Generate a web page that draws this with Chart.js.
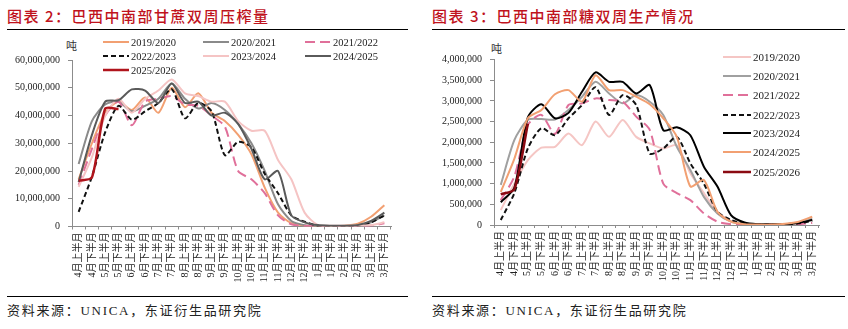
<!DOCTYPE html>
<html>
<head>
<meta charset="utf-8">
<script src="https://cdn.jsdelivr.net/npm/chart.js@4"></script>
<style>
  body { margin: 0; background: #fff; }
  #page { position: relative; width: 848px; height: 329px; overflow: hidden; }
  .title { position: absolute; top: 5px; font: 500 15px "Noto Sans CJK SC", sans-serif; color: #c0121c; letter-spacing: 1.5px; white-space: nowrap; }
  .rule { position: absolute; height: 0; border-top: 1.5px solid #000; }
  .src { position: absolute; top: 300px; font: 13px "Liberation Serif", "Noto Sans CJK SC", serif; color: #222; letter-spacing: 1.7px; white-space: nowrap; }
  .unit { position: absolute; font: 11px "Noto Sans CJK SC", sans-serif; color: #333; }
  canvas { position: absolute; }
</style>
</head>
<body>
<div id="page">
  <div class="title" style="left:7px">图表 2：巴西中南部甘蔗双周压榨量</div>
  <div class="title" style="left:432px">图表 3：巴西中南部糖双周生产情况</div>
  <div class="rule" style="left:7px; width:401px; top:29px"></div>
  <div class="rule" style="left:432px; width:413px; top:29px"></div>
  <span class="unit" style="left:66px; top:37px">吨</span>
  <span class="unit" style="left:491px; top:40px">吨</span>
  <canvas id="cane" width="410" height="264" style="left:0; top:32px"></canvas>
  <canvas id="sugar" width="424" height="264" style="left:424px; top:32px"></canvas>
  <div class="rule" style="left:7px; width:401px; top:296px"></div>
  <div class="rule" style="left:432px; width:413px; top:296px"></div>
  <div class="src" style="left:7px">资料来源：UNICA，东证衍生品研究院</div>
  <div class="src" style="left:432px">资料来源：UNICA，东证衍生品研究院</div>
</div>
<script>
// half-month periods of the harvest season
const periods = ["4月上半月","4月下半月","5月上半月","5月下半月","6月上半月","6月下半月",
  "7月上半月","7月下半月","8月上半月","8月下半月","9月上半月","9月下半月",
  "10月上半月","10月下半月","11月上半月","11月下半月","12月上半月","12月下半月",
  "1月上半月","1月下半月","2月上半月","2月下半月","3月上半月","3月下半月"];
const seasons = ["2019/2020","2020/2021","2021/2022","2022/2023","2023/2024","2024/2025","2025/2026"];

// cane crushed, million tonnes
const cane1920 = [17, 30, 41, 45, 42, 46.5, 41, 50, 43, 48, 41, 38, 33, 26, 14, 5, 1.2, 0.4, 0.2, 0.2, 0.3, 1.0, 3.5, 7.7];
const cane2021 = [22.5, 38, 44, 45, 41.5, 43.5, 46, 51.5, 46, 42.5, 44.5, 42, 37, 30, 20, 8, 2, 0.5, 0.2, 0.2, 0.2, 0.5, 1.5, 4];
const cane2122 = [15, 28, 40, 45, 36.5, 45, 46, 47, 44, 43.5, 40, 36, 20, 17, 12, 4, 0.8, 0.2, 0.2, 0.2, 0.2, 0.2, 0.3, 1.2];
const cane2223 = [5.3, 18, 34, 43.5, 38.5, 41.5, 44.5, 49.5, 39, 44.5, 41.5, 25.7, 30.5, 28.5, 19, 12, 4, 1.7, 0.3, 0.2, 0.2, 0.3, 1.5, 4];
const cane2324 = [14.3, 25, 40, 46, 41, 46, 49, 53, 48, 47, 45, 45, 38, 34.5, 34.5, 24, 17, 5, 0.5, 0.3, 0.3, 0.3, 0.5, 1.5];
const cane2425 = [16, 33, 45, 45.5, 49.4, 49, 44.5, 51.5, 44.5, 45, 40, 41, 37, 28, 17, 20, 4, 1.5, 0.5, 0.3, 0.3, 0.5, 2, 5];
const cane2526 = [16.5, 17.7, 42.5, 42.3];

// sugar produced, million tonnes
const sugar1920 = [0.36, 1.0, 1.57, 1.87, 1.89, 2.21, 1.93, 2.5, 2.13, 2.54, 2.13, 1.97, 1.85, 1.93, 1.25, 0.77, 0.32, 0.1, 0.02, 0.01, 0.01, 0.02, 0.05, 0.12];
const sugar2021 = [0.97, 2.05, 2.54, 2.56, 2.55, 2.78, 3.1, 3.46, 3.18, 2.94, 3.14, 2.98, 2.66, 1.89, 1.33, 0.68, 0.28, 0.08, 0.02, 0.01, 0.01, 0.02, 0.06, 0.15];
const sugar2122 = [0.6, 1.17, 2.42, 2.66, 2.2, 2.9, 2.94, 3.06, 3.02, 2.98, 2.62, 2.3, 1.0, 0.77, 0.6, 0.28, 0.08, 0.02, 0.01, 0.01, 0.01, 0.01, 0.02, 0.05];
const sugar2223 = [0.12, 0.77, 1.85, 2.34, 2.17, 2.58, 2.9, 3.33, 2.66, 3.14, 2.9, 1.73, 1.85, 2.13, 1.49, 1.0, 0.32, 0.12, 0.03, 0.01, 0.01, 0.02, 0.04, 0.1];
const sugar2324 = [0.55, 0.9, 2.6, 2.92, 2.58, 2.71, 3.22, 3.69, 3.46, 3.46, 3.18, 3.38, 2.29, 2.36, 2.17, 1.41, 0.93, 0.24, 0.06, 0.02, 0.02, 0.02, 0.05, 0.12];
const sugar2425 = [0.8, 1.6, 2.58, 2.78, 3.16, 3.26, 2.98, 3.62, 3.26, 3.26, 3.1, 2.92, 2.58, 2.13, 0.93, 1.09, 0.32, 0.08, 0.02, 0.01, 0.01, 0.03, 0.08, 0.2];
const sugar2526 = [0.74, 0.86, 2.45];

const caneTicks = [0, 10, 20, 30, 40, 50, 60];
const sugarTicks = [0, 0.5, 1, 1.5, 2, 2.5, 3, 3.5, 4];

const serif = "'Liberation Serif', 'Noto Sans CJK SC', serif";
const axisGray = "#8c8c8c";

// draws the legend at fixed spots over the plot
const fixedLegend = {
  id: "fixedLegend",
  afterDraw(chart, args, opts) {
    const ctx = chart.ctx;
    ctx.save();
    ctx.font = opts.font;
    ctx.textBaseline = "middle";
    chart.data.datasets.forEach((ds, k) => {
      const [x, y] = opts.pos[k];
      ctx.strokeStyle = ds.borderColor;
      ctx.lineWidth = ds.borderWidth;
      ctx.setLineDash(ds.borderDash || []);
      ctx.beginPath();
      ctx.moveTo(x, y);
      ctx.lineTo(x + opts.len, y);
      ctx.stroke();
      ctx.setLineDash([]);
      ctx.fillStyle = "#222";
      ctx.fillText(ds.label, x + opts.len + 2, y + 1);
    });
    ctx.restore();
  }
};

function makeSet(label, data, color, dash, k, width) {
  return {
    label: label, data: data, borderColor: color, backgroundColor: color,
    borderWidth: width || 2, borderDash: dash, pointRadius: 0, tension: 0.25,
    fill: false, order: seasons.length - k
  };
}

function makeChart(id, datasets, ticks, yWidth, xHeight, pad, legendOpts) {
  return new Chart(document.getElementById(id), {
    type: "line",
    data: { labels: periods, datasets: datasets },
    plugins: [fixedLegend],
    options: {
      responsive: false,
      animation: false,
      layout: { padding: pad },
      plugins: { legend: { display: false }, tooltip: { enabled: false }, fixedLegend: legendOpts },
      scales: {
        x: {
          offset: true,
          afterFit: (s) => { s.height = xHeight; },
          grid: { offset: true, drawOnChartArea: false, tickLength: 3, color: axisGray },
          border: { color: axisGray },
          ticks: { autoSkip: false, minRotation: 90, maxRotation: 90, padding: 3, color: "#222",
                   font: { family: serif, size: 10 } }
        },
        y: {
          min: ticks[0], max: ticks[ticks.length - 1],
          afterFit: (s) => { s.width = yWidth; },
          afterBuildTicks: (s) => { s.ticks = ticks.map(v => ({ value: v })); },
          grid: { drawOnChartArea: false, tickLength: 4, color: axisGray },
          border: { color: axisGray },
          ticks: { padding: 8, color: "#222", font: { family: serif, size: 10 },
                   callback: (v) => Math.round(v * 1e6).toLocaleString("en-US") }
        }
      }
    }
  });
}

makeChart("cane", [
  makeSet(seasons[0], cane1920, "#f2a072", [], 0),
  makeSet(seasons[1], cane2021, "#8a8a8a", [], 1),
  makeSet(seasons[2], cane2122, "#e0709a", [10, 5], 2),
  makeSet(seasons[3], cane2223, "#111111", [5, 3], 3),
  makeSet(seasons[4], cane2324, "#f5c4c4", [], 4),
  makeSet(seasons[5], cane2425, "#5a5a5a", [], 5),
  makeSet(seasons[6], cane2526, "#b0141c", [], 6, 2.5)
], caneTicks, 72, 69.5, { top: 28, right: 19 }, {
  font: "10.5px " + serif, len: 26,
  pos: [[103, 10], [203, 10], [305, 10], [103, 24], [203, 24], [305, 24], [103, 38]]
});

makeChart("sugar", [
  makeSet(seasons[0], sugar1920, "#f5c6c4", [], 0),
  makeSet(seasons[1], sugar2021, "#a0a0a0", [], 1),
  makeSet(seasons[2], sugar2122, "#e0709a", [10, 5], 2),
  makeSet(seasons[3], sugar2223, "#111111", [5, 3], 3),
  makeSet(seasons[4], sugar2324, "#000000", [], 4),
  makeSet(seasons[5], sugar2425, "#f2a072", [], 5),
  makeSet(seasons[6], sugar2526, "#8b0a12", [], 6, 2.5)
], sugarTicks, 70, 71, { top: 27.5, right: 29 }, {
  font: "11px " + serif, len: 28,
  pos: [[299, 25], [299, 44], [299, 63], [299, 83], [299, 101], [299, 120], [299, 140]]
});
</script>
</body>
</html>
